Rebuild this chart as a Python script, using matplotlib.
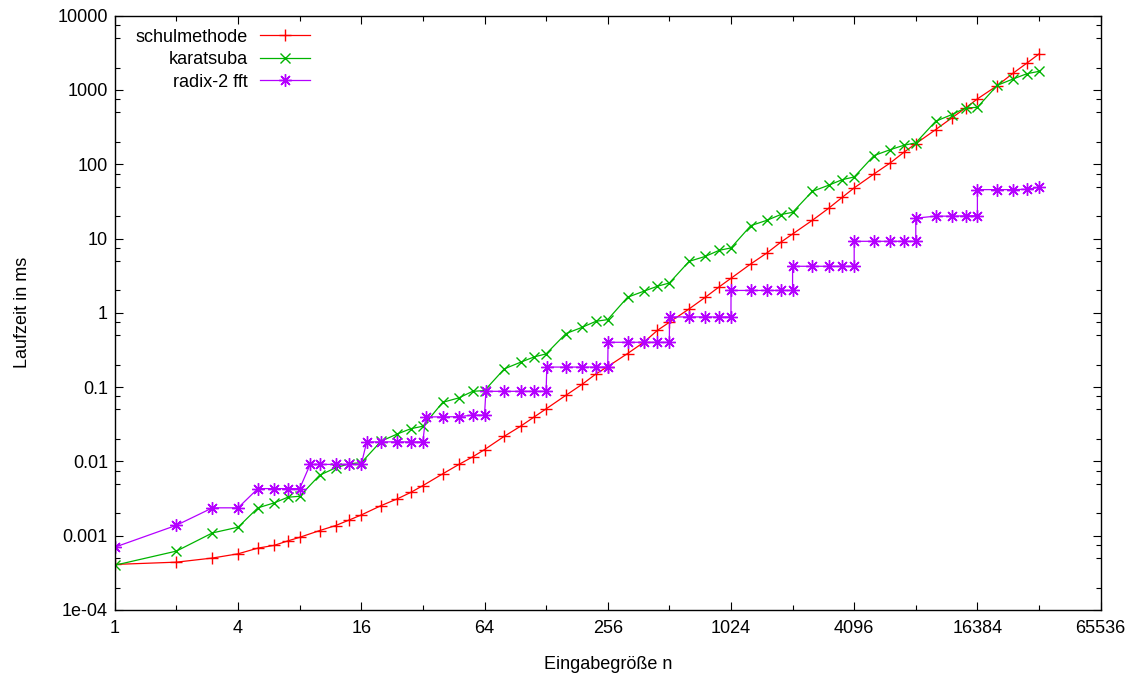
import matplotlib
matplotlib.use("Agg")
import matplotlib.pyplot as plt
from matplotlib.ticker import FixedLocator, FixedFormatter, NullFormatter

plt.rcParams['font.family'] = ['Liberation Sans', 'DejaVu Sans']

# input sizes (schulmethode / karatsuba)
n = [1, 2, 3, 4, 5, 6, 7, 8, 10, 12, 14, 16, 20, 24, 28, 32, 40, 48, 56, 64,
     80, 96, 112, 128, 160, 192, 224, 256, 320, 384, 448, 512, 640, 768, 896, 1024,
     1280, 1536, 1792, 2048, 2560, 3072, 3584, 4096, 5120, 6144, 7168, 8192,
     10240, 12288, 14336, 16384, 20480, 24576, 28672, 32768]

schul = [0.00041, 0.00044, 0.00050, 0.00057, 0.00068, 0.00074, 0.00085, 0.00095,
         0.00117, 0.00137, 0.00163, 0.0019, 0.00254, 0.00313, 0.00384, 0.00472,
         0.0068, 0.0091, 0.0115, 0.0144, 0.0218, 0.0297, 0.0397, 0.0509,
         0.0776, 0.109, 0.150, 0.189, 0.283, 0.401, 0.581, 0.745,
         1.13, 1.62, 2.23, 2.91, 4.55, 6.40, 8.89, 11.5,
         17.6, 25.5, 35.9, 48.0, 74.0, 104, 145, 189,
         292, 420, 572, 757, 1143, 1694, 2310, 3050]

karatsuba = [0.00040, 0.00062, 0.00109, 0.00130, 0.00237, 0.00276, 0.00329, 0.00339,
             0.0065, 0.0082, 0.0093, 0.0096, 0.0187, 0.0234, 0.0276, 0.0297,
             0.0624, 0.0716, 0.0877, 0.0897, 0.176, 0.216, 0.255, 0.280,
             0.525, 0.638, 0.768, 0.810, 1.62, 1.95, 2.28, 2.52,
             4.93, 5.75, 6.93, 7.47, 14.9, 17.6, 21.0, 22.5,
             43.2, 52.1, 62.0, 67.4, 130.6, 157, 180, 194,
             378, 466, 572, 583, 1153, 1410, 1657, 1778]

# fft has extra points right after each power of two
n_fft = [1, 2, 3, 4, 5, 6, 7, 8, 9, 10, 12, 14, 16, 17, 20, 24, 28, 32,
         33, 40, 48, 56, 64, 65, 80, 96, 112, 128, 129, 160, 192, 224, 256,
         257, 320, 384, 448, 512, 513, 640, 768, 896, 1024,
         1025, 1280, 1536, 1792, 2048, 2049, 2560, 3072, 3584, 4096,
         4097, 5120, 6144, 7168, 8192, 8193, 10240, 12288, 14336, 16384,
         16385, 20480, 24576, 28672, 32768]

fft = [0.0007, 0.00138, 0.00237, 0.00237, 0.0043, 0.0043, 0.0043, 0.0043,
       0.0091, 0.0091, 0.0091, 0.0091, 0.0091,
       0.0183, 0.0183, 0.0183, 0.0183, 0.0183,
       0.0397, 0.0397, 0.0400, 0.0420, 0.0420,
       0.0877, 0.0877, 0.0877, 0.0877, 0.0877,
       0.186, 0.186, 0.186, 0.186, 0.186,
       0.401, 0.401, 0.401, 0.401, 0.401,
       0.88, 0.88, 0.88, 0.88, 0.88,
       2.0, 2.0, 2.0, 2.0, 2.0,
       4.23, 4.23, 4.23, 4.23, 4.23,
       9.17, 9.17, 9.17, 9.17, 9.17,
       18.8, 20.0, 20.0, 20.2, 20.3,
       45.5, 45.5, 45.5, 46.0, 48.9]

xticks = [1, 4, 16, 64, 256, 1024, 4096, 16384, 65536]
xminor = [2, 8, 32, 128, 512, 2048, 8192, 32768]
yticks = [1e-4, 1e-3, 1e-2, 1e-1, 1, 10, 100, 1000, 10000]
ylabels = ['1e-04', '0.001', '0.01', '0.1', '1', '10', '100', '1000', '10000']

fig = plt.figure(figsize=(11.37, 6.8), dpi=100)
ax = fig.add_axes([0.101, 0.103, 0.867, 0.874])

ax.plot(n, schul, color='#ff0000', lw=0.9, marker='+', ms=9, mew=1.0, label='schulmethode')
ax.plot(n, karatsuba, color='#00b400', lw=0.9, marker='x', ms=7.5, mew=1.0, label='karatsuba')
ax.plot(n_fft, fft, color='#b400ff', lw=0.9, marker=(8, 2, 0), ms=9, mew=1.0, label='radix-2 fft')

ax.set_xscale('log', base=2)
ax.set_yscale('log')
ax.set_xlim(1, 65536)
ax.set_ylim(1e-4, 1e4)

ax.xaxis.set_major_locator(FixedLocator(xticks))
ax.xaxis.set_major_formatter(FixedFormatter([str(t) for t in xticks]))
ax.xaxis.set_minor_locator(FixedLocator(xminor))
ax.xaxis.set_minor_formatter(NullFormatter())

yminor = []
for d in yticks[:-1]:
    for s in [2, 5, 7.5]:
        yminor.append(d * s)
ax.yaxis.set_major_locator(FixedLocator(yticks))
ax.yaxis.set_major_formatter(FixedFormatter(ylabels))
ax.yaxis.set_minor_locator(FixedLocator(yminor))
ax.yaxis.set_minor_formatter(NullFormatter())

ax.tick_params(which='both', direction='in', top=True, right=True, labelsize=13, width=0.8)
ax.tick_params(which='major', length=6)
ax.tick_params(which='minor', length=3.5)
ax.tick_params(axis='y', which='major', pad=5)
ax.tick_params(axis='x', which='major', pad=7)
for sp in ax.spines.values():
    sp.set_linewidth(1.0)

ax.set_xlabel('Eingabegröße n', fontsize=13, labelpad=14)
ax.set_ylabel('Laufzeit in ms', fontsize=13, labelpad=19)

ax.legend(loc='upper left', bbox_to_anchor=(0.021, 0.978), frameon=False, markerfirst=False,
          fontsize=13, handlelength=2.8, handletextpad=0.65, labelspacing=0.3, borderpad=0,
          borderaxespad=0)

fig.savefig('out.png', dpi=100)
